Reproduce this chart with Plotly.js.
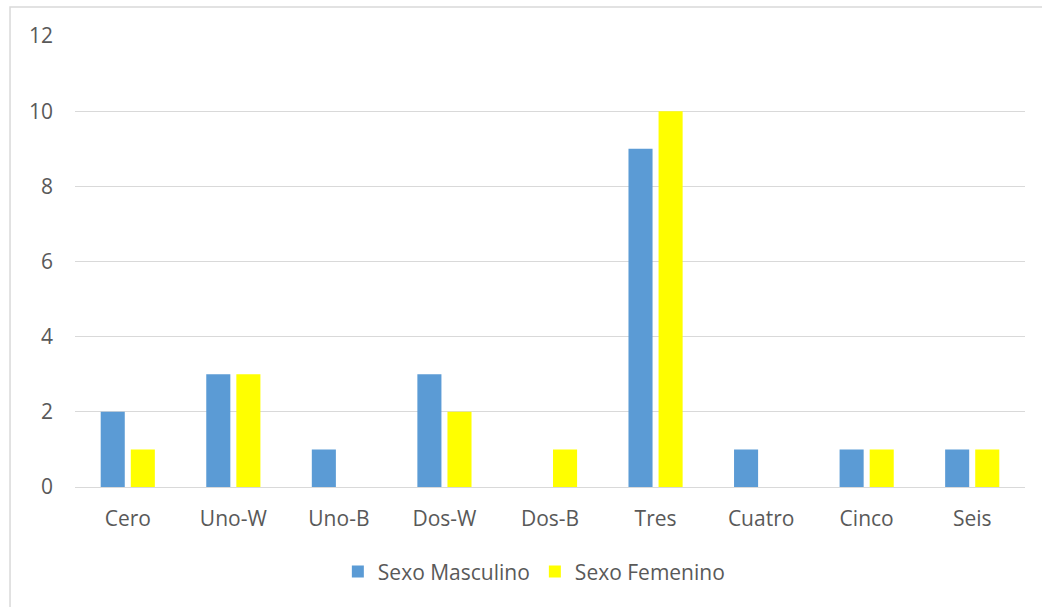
<!DOCTYPE html>
<html>
<head>
<meta charset="utf-8">
<script src="https://cdn.plot.ly/plotly-3.0.1.min.js"></script>
<style>
  html, body { margin: 0; padding: 0; background: #ffffff; }
  #chart { width: 1042px; height: 607px; }
</style>
</head>
<body>
<div id="chart"></div>
<script>
// Categories and counts per sex
const categories = ["Cero", "Uno-W", "Uno-B", "Dos-W", "Dos-B", "Tres", "Cuatro", "Cinco", "Seis"];
const masculino = [2, 3, 1, 3, 0, 9, 1, 1, 1];
const femenino  = [1, 3, 0, 2, 1, 10, 0, 1, 1];
const seriesNames = ["Sexo Masculino", "Sexo Femenino"];
const yTicks = [0, 2, 4, 6, 8, 10, 12];

const textColor = "#595959";
const gridColor = "#D9D9D9";
const fontFamily = "'Open Sans', 'Liberation Sans', sans-serif";
const fontSize = 21;

const traces = [
  {
    type: "bar",
    name: seriesNames[0],
    x: categories,
    y: masculino,
    marker: { color: "#5B9BD5" },
    hoverinfo: "x+y+name"
  },
  {
    type: "bar",
    name: seriesNames[1],
    x: categories,
    y: femenino,
    marker: { color: "#FFFF00" },
    hoverinfo: "x+y+name"
  }
];

const layout = {
  width: 1042,
  height: 607,
  margin: { l: 75, r: 17, t: 36, b: 120 },
  paper_bgcolor: "#ffffff",
  plot_bgcolor: "#ffffff",
  font: { family: fontFamily, size: fontSize, color: textColor },
  barmode: "group",
  bargap: 0.43,
  bargroupgap: 0.2,
  showlegend: true,
  legend: {
    orientation: "h",
    x: 0.483,
    xanchor: "center",
    y: -0.188,
    yanchor: "middle",
    font: { family: fontFamily, size: fontSize, color: textColor },
    bgcolor: "rgba(0,0,0,0)"
  },
  xaxis: {
    type: "category",
    showgrid: false,
    showline: true,
    linecolor: gridColor,
    linewidth: 1,
    ticks: "",
    ticklen: 0,
    ticklabelstandoff: 13,
    tickfont: { family: fontFamily, size: fontSize, color: textColor },
    fixedrange: true
  },
  yaxis: {
    range: [0, 12],
    tickvals: yTicks,
    ticktext: yTicks.map(String),
    showgrid: true,
    gridcolor: gridColor,
    gridwidth: 1,
    zeroline: false,
    showline: false,
    ticks: "",
    ticklabelstandoff: 21,
    tickfont: { family: fontFamily, size: fontSize, color: textColor },
    fixedrange: true
  },
  shapes: [
    {
      // chart-area outline
      type: "rect",
      xref: "paper",
      yref: "paper",
      x0: -0.0684,
      x1: 1.03,
      y0: -0.28,
      y1: 1.0643,
      line: { color: gridColor, width: 1.5 },
      fillcolor: "rgba(0,0,0,0)",
      layer: "below"
    }
  ]
};

Plotly.newPlot("chart", traces, layout, { displayModeBar: false, staticPlot: true });
</script>
</body>
</html>
